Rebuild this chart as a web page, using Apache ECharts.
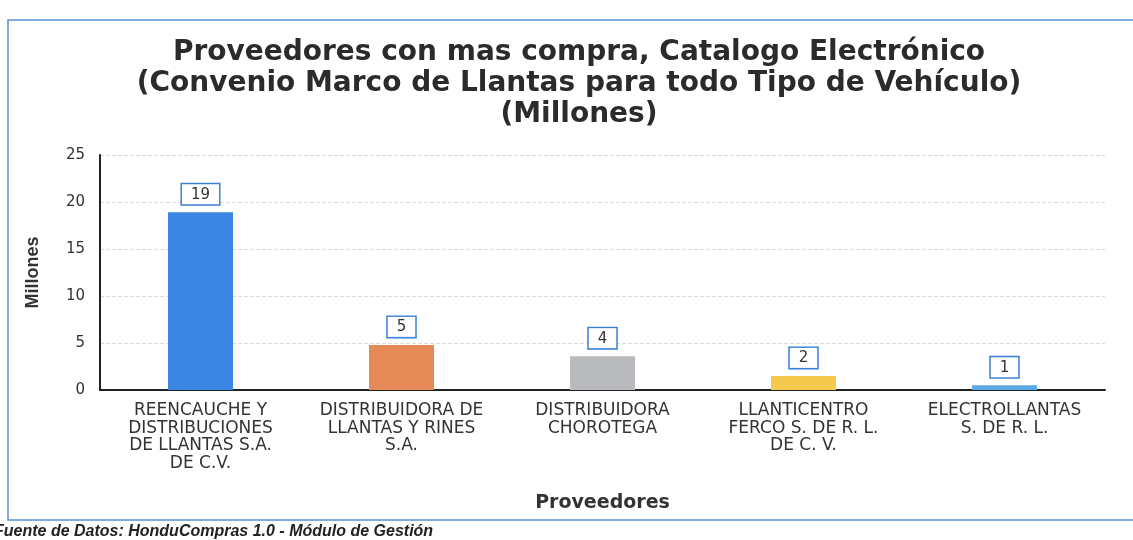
<!DOCTYPE html>
<html>
<head>
<meta charset="utf-8">
<script src="https://cdn.jsdelivr.net/npm/echarts@6/dist/echarts.min.js"></script>
<style>
  html, body { margin: 0; padding: 0; background: #fff; }
  #chart { width: 1133px; height: 540px; }
</style>
</head>
<body>
<div id="chart"></div>
<script>
// proveedores y montos (millones)
const categories = [
  'REENCAUCHE Y\nDISTRIBUCIONES\nDE LLANTAS S.A.\nDE C.V.',
  'DISTRIBUIDORA DE\nLLANTAS Y RINES\nS.A.',
  'DISTRIBUIDORA\nCHOROTEGA',
  'LLANTICENTRO\nFERCO S. DE R. L.\nDE C. V.',
  'ELECTROLLANTAS\nS. DE R. L.'
];
const values = [18.9, 4.8, 3.6, 1.5, 0.5];
const barColors = ['#3a86e2', '#e58a56', '#b8babd', '#f5c84e', '#5aa9e8'];
const yTicks = [0, 5, 10, 15, 20, 25];

const chart = echarts.init(document.getElementById('chart'));

const font = '"Liberation Sans", Arial, sans-serif';
const wide = '"DejaVu Sans", Verdana, sans-serif';

chart.setOption({
  animation: false,
  textStyle: { fontFamily: wide },
  title: {
    text: 'Proveedores con mas compra, Catalogo Electrónico\n(Convenio Marco de Llantas para todo Tipo de Vehículo)\n(Millones)',
    left: 574,
    top: 32,
    textAlign: 'center',
    textStyle: {
      fontFamily: wide,
      fontSize: 28,
      fontWeight: 'bold',
      color: '#2b2b2b',
      lineHeight: 31
    }
  },
  graphic: [
    {
      type: 'rect',
      shape: { x: 8, y: 20, width: 1140, height: 500 },
      style: { fill: 'none', stroke: '#5b8fd6', lineWidth: 1.5 }
    },
    {
      type: 'text',
      left: -6,
      top: 524,
      style: {
        text: 'Fuente de Datos: HonduCompras 1.0 - Módulo de Gestión',
        font: 'italic bold 16px ' + font,
        fill: '#222'
      }
    }
  ],
  grid: {
    left: 100,
    right: 28,
    top: 155,
    bottom: 150
  },
  xAxis: {
    type: 'category',
    data: categories,
    name: 'Proveedores',
    nameLocation: 'middle',
    nameGap: 104,
    nameTextStyle: { fontSize: 19, fontWeight: 'bold', color: '#333', fontFamily: wide },
    axisLine: { lineStyle: { color: '#222', width: 2 } },
    axisTick: { show: false },
    axisLabel: {
      interval: 0,
      fontSize: 17,
      lineHeight: 17.5,
      color: '#333',
      margin: 12,
      fontFamily: wide
    }
  },
  yAxis: {
    type: 'value',
    min: yTicks[0],
    max: yTicks[yTicks.length - 1],
    interval: 5,
    name: 'Millones',
    nameLocation: 'middle',
    nameGap: 58,
    nameTextStyle: { fontSize: 18, fontWeight: 'bold', color: '#333', fontFamily: font },
    axisLine: { show: true, lineStyle: { color: '#222', width: 2 } },
    axisTick: { show: false },
    axisLabel: { fontSize: 15, color: '#333', margin: 15, fontFamily: wide },
    splitLine: { lineStyle: { color: '#dcdcdc', type: 'dashed' } }
  },
  series: [{
    type: 'bar',
    data: values.map((v, i) => ({ value: v, itemStyle: { color: barColors[i] } })),
    barWidth: 65,
    label: {
      show: true,
      position: 'top',
      distance: 8,
      formatter: p => Math.round(p.value),
      fontSize: 15,
      color: '#333',
      backgroundColor: '#fff',
      borderColor: '#3a7fd8',
      borderWidth: 1.5,
      padding: [3, 9, 2, 9],
      fontFamily: wide
    }
  }]
});
</script>
</body>
</html>
